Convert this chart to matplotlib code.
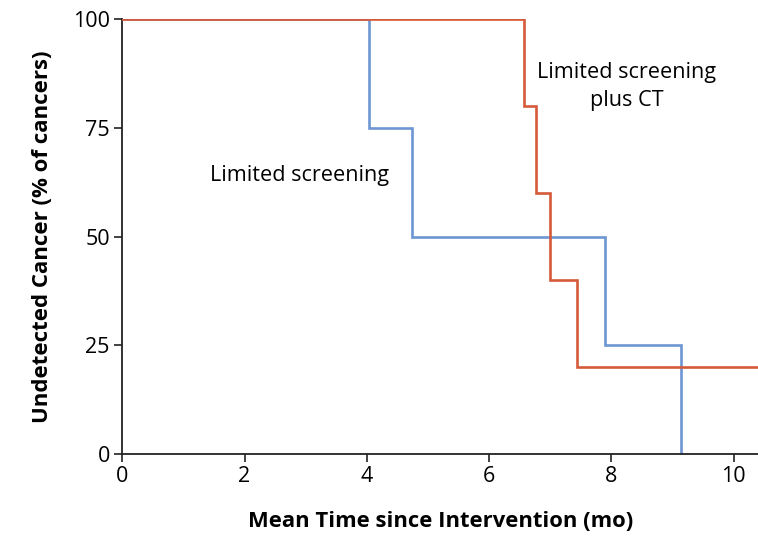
import matplotlib
matplotlib.use("Agg")
import matplotlib.pyplot as plt

# Data (Kaplan-Meier style steps)
blue_t = [0, 4.03, 4.74, 7.90, 9.14]
blue_v = [100, 75, 50, 25, 0]
red_t = [0, 6.58, 6.77, 7.00, 7.44, 10.4]
red_v = [100, 80, 60, 40, 20, 20]
xticks = [0, 2, 4, 6, 8, 10]
yticks = [0, 25, 50, 75, 100]

plt.rcParams['font.family'] = ['Open Sans', 'DejaVu Sans']

fig = plt.figure(figsize=(7.58, 5.37), dpi=100)
ax = fig.add_axes([0.1613, 0.1546, 0.8387, 0.8091])

blue_c = '#6E96D4'
red_c = '#D45A3A'
ax.step(red_t, red_v, where='post', color=red_c, lw=1.9, solid_joinstyle='miter', zorder=3)
ax.step(blue_t, blue_v, where='post', color=blue_c, lw=1.9, solid_joinstyle='miter', zorder=2)

ax.set_xlim(0, 10.4)
ax.set_ylim(0, 100)
ax.set_xticks(xticks)
ax.set_yticks(yticks)
ax.spines['top'].set_visible(False)
ax.spines['right'].set_visible(False)
for s in ['left', 'bottom']:
    ax.spines[s].set_linewidth(1.3)
    ax.spines[s].set_color('#222222')
ax.tick_params(direction='out', length=6, width=1.2, labelsize=15.5, color='#222222', pad=3)
for lbl in ax.get_xticklabels() + ax.get_yticklabels():
    lbl.set_clip_on(False)

ax.set_xlabel('Mean Time since Intervention (mo)', fontsize=15.8, fontweight='bold', labelpad=17)
ax.set_ylabel('Undetected Cancer (% of cancers)', fontsize=16, fontweight='bold', labelpad=14)

ax.text(2.9, 64, 'Limited screening', fontsize=15.6, ha='center', va='center')
ax.text(8.25, 84.5, 'Limited screening\nplus CT', fontsize=15.6, ha='center', va='center', linespacing=1.45)

fig.savefig('out.png', dpi=100)
